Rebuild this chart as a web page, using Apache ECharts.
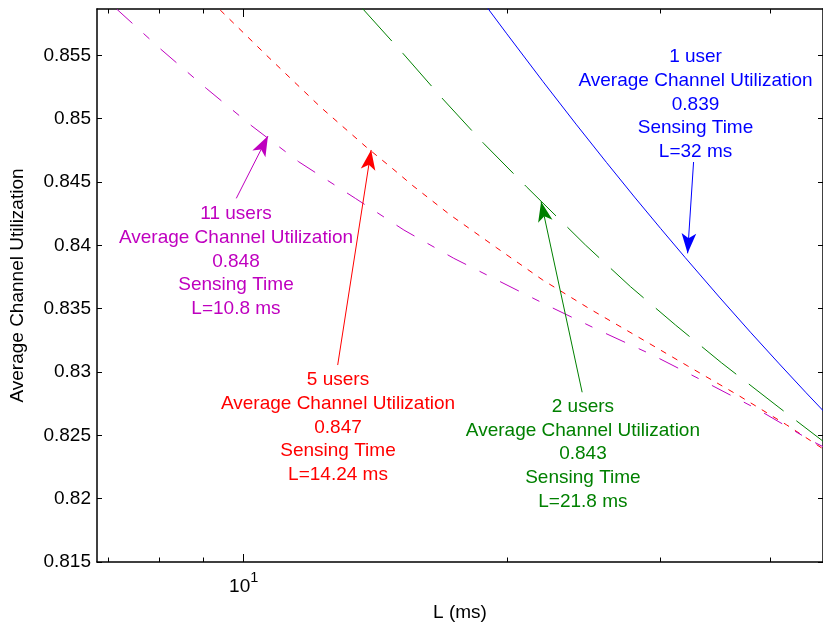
<!DOCTYPE html>
<html><head><meta charset="utf-8">
<script src="https://cdn.jsdelivr.net/npm/echarts@6/dist/echarts.min.js"></script>
<style>html,body{margin:0;padding:0;background:#fff}#c{width:823px;height:623px}</style>
</head><body><div id="c"></div>
<script>
const FONT = '"Liberation Sans", Arial, Helvetica, sans-serif';

// ---- data: sensing time L (ms) vs average channel utilization ----
const L_1user   = [19, 20, 22, 24, 26, 28, 30, 32, 35, 38, 41, 44, 46.1];
const U_1user   = [0.85876, 0.85670, 0.85293, 0.84957, 0.84655, 0.84381, 0.84132, 0.83903, 0.83592, 0.83314, 0.83064, 0.82836, 0.82689];

const L_2users  = [13.67, 15.21, 16.90, 18.81, 21.06, 24.60, 27.70, 31.19, 35.19, 40.86, 46.08];
const U_2users  = [0.85871, 0.85516, 0.85155, 0.84806, 0.84463, 0.84003, 0.83674, 0.83371, 0.83074, 0.82726, 0.82450];

const L_5users  = [9.40, 10.61, 12.26, 13.81, 14.79, 15.62, 17.23, 19.45, 21.99, 24.93, 28.31, 32.22, 36.76, 41.81, 46.08];
const U_5users  = [0.85858, 0.85503, 0.85088, 0.84776, 0.84608, 0.84470, 0.84240, 0.83983, 0.83726, 0.83495, 0.83274, 0.83047, 0.82818, 0.82582, 0.82390];

const L_11users = [7.16, 8.04, 9.06, 10.22, 11.56, 13.42, 15.25, 17.39, 19.49, 22.33, 25.55, 29.28, 33.85, 38.70, 44.45, 46.08];
const U_11users = [0.85864, 0.85548, 0.85240, 0.84942, 0.84660, 0.84371, 0.84121, 0.83898, 0.83726, 0.83521, 0.83326, 0.83138, 0.82916, 0.82706, 0.82463, 0.82408];

// annotation texts
const userLabels = ['1 user', '2 users', '5 users', '11 users'];
const utilLabels = ['0.839', '0.843', '0.847', '0.848'];
const timeLabels = ['L=32 ms', 'L=21.8 ms', 'L=14.24 ms', 'L=10.8 ms'];

// axis ticks
const xMajorTicks = [10];
const xMinorTicks = [7, 8, 9, 20, 30, 40];
const yTicks = [0.815, 0.82, 0.825, 0.83, 0.835, 0.84, 0.845, 0.85, 0.855];

// ---- layout (annotation anchors in data units) ----
const X_MIN = 6.795, X_MAX = 46.0, Y_MIN = 0.815, Y_MAX = 0.85866;
const colors = ['#0000FF', '#008000', '#FF0000', '#BF00BF'];
const dashes = ['solid', [44, 16], [6, 7], [21, 15, 8, 15]];
const textAt  = [[32.88, 0.85112], [24.44, 0.82352], [12.82, 0.82562], [9.799, 0.83874]];
const arrowFrom = [[32.71, 0.84658], [24.39, 0.82840], [12.81, 0.83055], [9.807, 0.84371]];
const arrowTo   = [[32.20, 0.83937], [21.89, 0.84345], [13.99, 0.84753], [10.66, 0.84863]];
const seriesL = [L_1user, L_2users, L_5users, L_11users];
const seriesU = [U_1user, U_2users, U_5users, U_11users];

const FS = 19;

function xAxisDef(pos, ticks, len, showLine, showLabel, withName) {
  const ax = {
    type: 'log', logBase: 10, min: X_MIN, max: X_MAX, position: pos, gridIndex: 0,
    axisLine: { show: showLine, onZero: false, lineStyle: { color: '#000', width: 1.5 } },
    axisTick: { show: true, inside: true, length: len, customValues: ticks, lineStyle: { color: '#000', width: 1 } },
    axisLabel: { show: showLabel, customValues: ticks, margin: 8, color: '#000', fontFamily: FONT,
      formatter: function () { return '{b|10}{s|1}'; },
      rich: {
        b: { fontSize: FS, lineHeight: 34, fontFamily: FONT, color: '#000' },
        s: { fontSize: 14.5, lineHeight: 14.5, verticalAlign: 'top', fontFamily: FONT, color: '#000' }
      } },
    splitLine: { show: false }
  };
  if (withName) {
    ax.name = 'L (ms)';
    ax.nameLocation = 'middle';
    ax.nameGap = 41.5;
    ax.nameMoveOverlap = false;
    ax.nameTextStyle = { fontSize: FS, fontFamily: FONT, color: '#000' };
  }
  return ax;
}

function yAxisDef(pos, showLabel, withName) {
  const ax = {
    type: 'value', min: Y_MIN, max: Y_MAX, position: pos, gridIndex: 0,
    axisLine: { show: true, onZero: false, lineStyle: { color: '#000', width: 1.5 } },
    axisTick: { show: true, inside: true, length: 5, customValues: yTicks, lineStyle: { color: '#000', width: 1 } },
    axisLabel: { show: showLabel, customValues: yTicks, margin: 6, fontSize: FS, fontFamily: FONT, color: '#000' },
    splitLine: { show: false }
  };
  if (withName) {
    ax.name = 'Average Channel Utilization';
    ax.nameLocation = 'middle';
    ax.nameGap = 70;
    ax.nameMoveOverlap = false;
    ax.nameTextStyle = { fontSize: FS, fontFamily: FONT, color: '#000' };
  }
  return ax;
}

const series = seriesL.map(function (Ls, i) {
  return {
    type: 'line', xAxisIndex: 0, yAxisIndex: 0,
    data: Ls.map(function (l, j) { return [l, seriesU[i][j]]; }),
    showSymbol: false, symbol: 'none', smooth: false, clip: true, silent: true,
    lineStyle: { color: colors[i], width: 1, type: dashes[i] },
    markLine: {
      silent: true, animation: false,
      symbol: ['none', 'arrow'],
      label: { show: false },
      emphasis: { disabled: true },
      lineStyle: { color: colors[i], width: 1, type: 'solid' },
      data: [[
        { coord: arrowFrom[i], symbol: 'none' },
        { coord: arrowTo[i], symbol: 'arrow', symbolSize: [11, 20] }
      ]]
    },
    markPoint: {
      silent: true, animation: false,
      symbol: 'rect', symbolSize: 1,
      itemStyle: { color: 'rgba(0,0,0,0)' },
      label: {
        show: true, position: 'inside', align: 'center', verticalAlign: 'middle',
        color: colors[i], fontSize: FS, fontFamily: FONT, lineHeight: 23.75,
        formatter: [userLabels[i], 'Average Channel Utilization', utilLabels[i], 'Sensing Time', timeLabels[i]].join('\n')
      },
      data: [{ coord: textAt[i] }]
    }
  };
});

const chart = echarts.init(document.getElementById('c'), null, { renderer: 'canvas' });
chart.setOption({
  animation: false,
  backgroundColor: '#fff',
  grid: { left: 97, right: 0, top: 9, bottom: 61, containLabel: false, outerBoundsMode: 'none' },
  xAxis: [
    xAxisDef('bottom', xMajorTicks, 8, true, true, true),
    xAxisDef('bottom', xMinorTicks, 4.5, false, false, false),
    xAxisDef('top', xMajorTicks, 8, true, false, false),
    xAxisDef('top', xMinorTicks, 4.5, false, false, false)
  ],
  yAxis: [
    yAxisDef('left', true, true),
    yAxisDef('right', false, false)
  ],
  series: series
});
</script>
</body></html>
